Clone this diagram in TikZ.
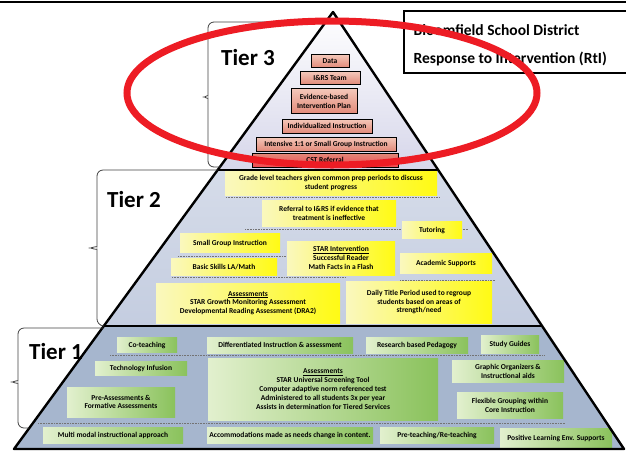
\documentclass[tikz,border=0pt]{standalone}
\usepackage{fontspec}
\setmainfont{Carlito}
\definecolor{rtired}{RGB}{237,28,36}
\definecolor{ylpale}{RGB}{250,248,190}
\definecolor{ylhot}{RGB}{255,250,20}
\definecolor{grpale}{RGB}{226,240,206}
\definecolor{grhot}{RGB}{138,194,92}
\definecolor{slpale}{RGB}{244,200,186}
\definecolor{slhot}{RGB}{226,138,122}
\definecolor{bgthree}{RGB}{214,214,234}
\definecolor{bgtwo}{RGB}{196,205,224}
\definecolor{bgone}{RGB}{166,182,206}
\tikzset{
  bx/.style={align=center,inner sep=1pt,font=\fontsize{7.5}{8.8}\selectfont\bfseries},
  sz/.style 2 args={minimum width=#1pt,minimum height=#2pt},
  t3/.style={bx,draw=black,line width=0.5pt,top color=slpale,bottom color=slhot},
  t2/.style={bx,left color=ylpale,right color=ylhot},
  t1/.style={bx,left color=grpale,right color=grhot},
  tr/.style={font=\fontsize{23}{23}\selectfont\bfseries},
  hd/.style={anchor=west,font=\fontsize{15.5}{15.5}\selectfont\bfseries},
  br/.style={draw=black!75,line width=0.8pt,rounded corners=6pt},
  sep/.style={densely dotted,black!55,line width=0.6pt},
  every picture/.style={line width=0.5pt},
}

\begin{document}
\begin{tikzpicture}[x=1pt,y=-1pt]
\useasboundingbox (0,0) rectangle (626,451);
\coordinate (apex) at (333,12);
\coordinate (l3) at (217.7,170); \coordinate (r3) at (438.2,170);
\coordinate (l2) at (103.8,326); \coordinate (r2) at (542.1,326);
\coordinate (l1) at (14,449); \coordinate (r1) at (624,449);
\fill[top color=white,bottom color=bgthree] (apex)--(r3)--(l3)--cycle;
\fill[top color=bgtwo!70!white,bottom color=bgtwo] (l3)--(r3)--(r2)--(l2)--cycle;
\fill[bgone] (l2)--(r2)--(r1)--(l1)--cycle;
\foreach \y/\a/\b in {197/226/440,229/245/468,256/178/292,277/172/345,280/400/495,355/110/545,423/38/565}{\draw[sep] (\a,\y)--(\b,\y);}
\begin{scope}
\clip (apex)--(r1)--(l1)--cycle;
% tier 3
\node[t3,sz={38}{13}] (data) at (330,61){Data};
\node[t3,sz={60}{13}] (team) at (330,78){I\&RS Team};
\node[t3,sz={66}{25}] (plan) at (324,101){Evidence-based\\Intervention Plan};
\node[t3,sz={90}{14}] (indv) at (327,126){Individualized Instruction};
\node[t3,sz={140}{14}] (intn) at (326,144){Intensive 1:1 or Small Group Instruction};
\node[t3,sz={146}{14},top color=slhot,bottom color=rtired!80] (cst) at (325,160){CST Referral};
% tier 2
\node[t2,sz={212}{24}] (grade) at (331,183){Grade level teachers given common prep periods to discuss\\student progress};
\node[t2,sz={134}{26}] (irs) at (329,213){Referral to I\&RS if evidence that\\treatment is ineffective};
\node[t2,sz={60}{17}] (tut) at (432,230){Tutoring};
\node[t2,sz={100}{19}] (sgi) at (230,243){Small Group Instruction};
\node[t2,sz={108}{34}] (star2) at (341,258){\underline{STAR Intervention}\\Successful Reader\\Math Facts in a Flash};
\node[t2,sz={92}{20}] (acad) at (446,263){Academic Supports};
\node[t2,sz={106}{17}] (bsk) at (224,267){Basic Skills LA/Math};
\node[t2,sz={184}{40}] (asm2) at (248,303){\underline{Assessments}\\STAR Growth Monitoring Assessment\\Developmental Reading Assessment (DRA2)};
\node[t2,sz={146}{42}] (title) at (419,302){Daily Title Period used to regroup\\students based on areas of\\strength/need};
% tier 1
\node[t1,sz={60}{15}] (cot) at (147,345){Co-teaching};
\node[t1,sz={146}{16}] (diff) at (280,345){Differentiated Instruction \& assessment};
\node[t1,sz={102}{16}] (ped) at (417,345){Research based Pedagogy};
\node[t1,sz={58}{18}] (guide) at (510,344){Study Guides};
\node[t1,sz={92}{14}] (tech) at (141,368){Technology Infusion};
\node[t1,sz={230}{62}] (asm1) at (323,389){\underline{Assessments}\\STAR Universal Screening Tool\\Computer adaptive norm referenced test\\Administered to all students 3x per year\\Assists in determination for Tiered Services};
\node[t1,sz={112}{22}] (graph) at (508,371){Graphic Organizers \&\\Instructional aids};
\node[t1,sz={108}{30}] (preas) at (121,402){Pre-Assessments \&\\Formative Assessments};
\node[t1,sz={106}{26}] (flex) at (510,405){Flexible Grouping within\\Core Instruction};
\node[t1,sz={140}{16}] (multi) at (113,435){Multi modal instructional approach};
\node[t1,sz={166}{16}] (accom) at (290,435){Accommodations made as needs change in content.};
\node[t1,sz={114}{16}] (preteach) at (437,435){Pre-teaching/Re-teaching};
\node[t1,sz={112}{20}] (posit) at (556,438){Positive Learning Env. Supports};
\end{scope}
\draw[line width=2.4pt,line join=round] (apex)--(r1)--(l1)--cycle;
\draw[line width=2.4pt] (l3)--(r3); \draw[line width=2.6pt] (l2)--(r2);
% braces
\draw[br] (325,22)--(208,22)--(208,90) .. controls (208,95) and (204,97) .. (199,97) .. controls (204,97) and (208,99) .. (208,104)--(208,167)--(221,167);
\draw[br] (l3)--(97,170)--(97,241) .. controls (97,246) and (90,248) .. (85,248) .. controls (90,248) and (97,250) .. (97,255)--(97,325)--(l2);
\draw[br] (103,328)--(18,328)--(18,375) .. controls (18,380) and (12,382) .. (7,382) .. controls (12,382) and (18,384) .. (18,389)--(18,428)--(29,428);
\node[tr] (lab3) at (248,58){Tier 3};
\node[tr] (lab2) at (134,200){Tier 2};
\node[tr] (lab1) at (56,352){Tier 1};
% header
\draw[line width=1.5pt] (0,2)--(626,2);
\draw[line width=2.4pt,fill=white] (404,11) rectangle (632,73);
\node[hd] (dist) at (410,30){Bloomfield School District};
\node[hd] (rti) at (410,59){Response to Intervention (RtI)};
\draw[rtired,line width=7pt] (332,93) ellipse (205pt and 72pt);
\end{tikzpicture}
\end{document}
